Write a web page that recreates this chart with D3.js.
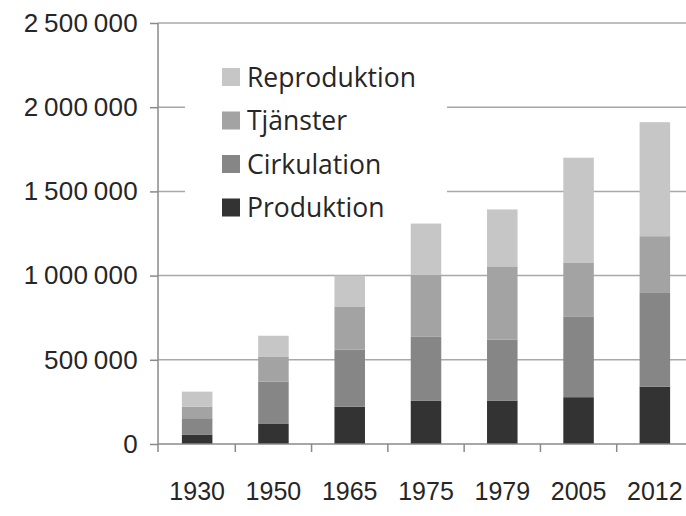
<!DOCTYPE html>
<html>
<head>
<meta charset="utf-8">
<script src="https://cdn.jsdelivr.net/npm/d3@7"></script>
<style>
  html, body { margin: 0; padding: 0; background: #fff; }
  svg { display: block; font-family: "Open Sans", "Noto Sans", sans-serif; }
  .tick text { fill: #262626; }
</style>
</head>
<body>
<svg id="chart" width="686" height="516"></svg>
<script>
// Years on the x axis
const years = ["1930", "1950", "1965", "1975", "1979", "2005", "2012"];

// Series, bottom to top of each stack
const seriesNames = ["Produktion", "Cirkulation", "Tjänster", "Reproduktion"];
const produktion   = [54000, 119000, 222000, 258000, 258000, 278000, 341000];
const cirkulation  = [99000, 252000, 338000, 381000, 361000, 480000, 560000];
const tjanster     = [69000, 149000, 257000, 367000, 436000, 317000, 333000];
const reproduktion = [89000, 123000, 183000, 303000, 338000, 625000, 677000];

const yTicks = [0, 500000, 1000000, 1500000, 2000000, 2500000];
const seriesColors = ["#333333", "#868686", "#a3a3a3", "#c6c6c6"];

// ---------------------------------------------------------------------------
// Layout
// ---------------------------------------------------------------------------

const svg = d3.select("#chart");
const AXIS_X = 158;
const BASE_Y = 444;
const TOP_Y = 23;

const rows = years.map((year, i) => ({
  year,
  Produktion: produktion[i],
  Cirkulation: cirkulation[i],
  "Tjänster": tjanster[i],
  Reproduktion: reproduktion[i],
}));

const x = d3.scaleBand().domain(years).range([AXIS_X + 1, 693]).paddingInner(0.6).paddingOuter(0.3);
const y = d3.scaleLinear().domain([0, 2500000]).range([BASE_Y, TOP_Y]);
const color = d3.scaleOrdinal().domain(seriesNames).range(seriesColors);

const stack = d3.stack().keys(seriesNames)(rows);

// Gridlines
svg.append("g")
  .selectAll("line")
  .data(yTicks.filter((d) => d > 0))
  .join("line")
  .attr("x1", AXIS_X)
  .attr("x2", 686)
  .attr("y1", (d) => y(d))
  .attr("y2", (d) => y(d))
  .attr("stroke", "#a8a8a8")
  .attr("stroke-width", 1.5);

// Legend box (white, covers the gridlines behind it)
const legend = svg.append("g").attr("transform", "translate(185,42)");
legend.append("rect")
  .attr("width", 262)
  .attr("height", 180)
  .attr("fill", "#fff");

const legendOrder = seriesNames.slice().reverse();
const item = legend.selectAll("g.item")
  .data(legendOrder)
  .join("g")
  .attr("class", "item")
  .attr("transform", (d, i) => `translate(37, ${35 + i * 43.5})`);
item.append("rect")
  .attr("x", 0)
  .attr("y", -9)
  .attr("width", 18)
  .attr("height", 18)
  .attr("fill", (d) => color(d));
item.append("text")
  .attr("x", 25)
  .attr("y", 0)
  .attr("dy", "0.36em")
  .attr("font-size", 26.5)
  .attr("fill", "#262626")
  .text((d) => d);

// Bars
svg.append("g")
  .selectAll("g")
  .data(stack)
  .join("g")
  .attr("fill", (d) => color(d.key))
  .selectAll("rect")
  .data((d) => d)
  .join("rect")
  .attr("x", (d) => x(d.data.year))
  .attr("width", x.bandwidth())
  .attr("y", (d) => y(d[1]))
  .attr("height", (d) => y(d[0]) - y(d[1]));

// Y axis
const fmt = (d) => d3.format(",")(d).replace(/,/g, "\u2009");
const yAxis = svg.append("g")
  .attr("transform", `translate(${AXIS_X},0)`)
  .call(d3.axisLeft(y).tickValues(yTicks).tickFormat(fmt).tickSize(8).tickPadding(12));
yAxis.select(".domain").attr("d", `M0,${TOP_Y}V${BASE_Y + 8}`).attr("stroke", "#8a8a8a").attr("stroke-width", 1.5);
yAxis.selectAll(".tick line").attr("stroke", "#8a8a8a").attr("stroke-width", 1.5);
yAxis.selectAll(".tick text").attr("font-size", 26).attr("letter-spacing", "0.3px");

// X axis
const xAxis = svg.append("g")
  .attr("transform", `translate(0,${BASE_Y})`)
  .call(d3.axisBottom(x).tickSize(0).tickPadding(38));
xAxis.select(".domain").attr("d", `M${AXIS_X},0H686`).attr("stroke", "#8a8a8a").attr("stroke-width", 1.5);
xAxis.selectAll(".tick text").attr("font-size", 25);

// Tick marks between the categories
const step = x.step();
const boundaries = years.map((yr) => x(yr) - x.paddingInner() * step / 2).slice(1);
xAxis.append("g")
  .selectAll("line")
  .data(boundaries)
  .join("line")
  .attr("x1", (d) => d)
  .attr("x2", (d) => d)
  .attr("y1", 0)
  .attr("y2", 8)
  .attr("stroke", "#8a8a8a")
  .attr("stroke-width", 1.5);
</script>
</body>
</html>
